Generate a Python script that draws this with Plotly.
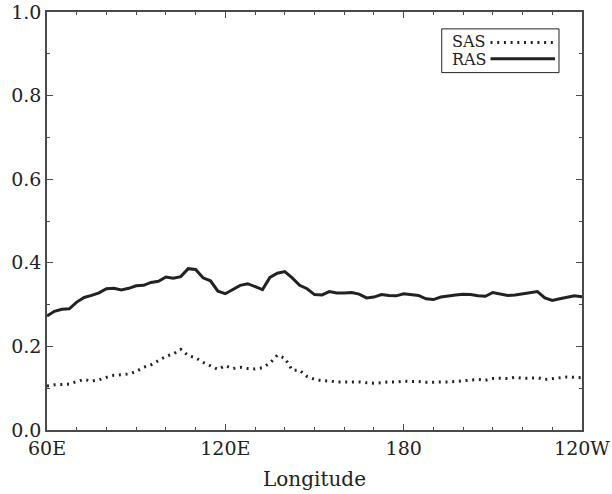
import numpy as np
import plotly.graph_objects as go

# Longitude grid (degrees east), 2.5 degree spacing from 60E to 120W
lon = np.arange(60.0, 240.0 + 0.1, 2.5)

ras = [0.273, 0.284, 0.289, 0.290, 0.306, 0.317, 0.322, 0.328, 0.338, 0.339,
       0.335, 0.339, 0.345, 0.346, 0.353, 0.356, 0.366, 0.363, 0.367, 0.386,
       0.384, 0.364, 0.357, 0.332, 0.326, 0.336, 0.346, 0.350, 0.343, 0.336,
       0.365, 0.375, 0.379, 0.364, 0.346, 0.338, 0.324, 0.323, 0.331, 0.328,
       0.328, 0.329, 0.325, 0.316, 0.318, 0.324, 0.322, 0.321, 0.326, 0.324,
       0.322, 0.314, 0.312, 0.318, 0.321, 0.323, 0.325, 0.324, 0.321, 0.320,
       0.329, 0.325, 0.322, 0.323, 0.326, 0.329, 0.331, 0.316, 0.310, 0.314,
       0.317, 0.321, 0.319]

sas = [0.105, 0.108, 0.109, 0.110, 0.116, 0.121, 0.117, 0.120, 0.126, 0.131,
       0.132, 0.134, 0.140, 0.150, 0.156, 0.165, 0.176, 0.182, 0.193, 0.178,
       0.173, 0.162, 0.154, 0.145, 0.154, 0.147, 0.150, 0.147, 0.146, 0.149,
       0.160, 0.179, 0.172, 0.143, 0.143, 0.128, 0.121, 0.118, 0.117, 0.115,
       0.115, 0.115, 0.115, 0.113, 0.112, 0.113, 0.115, 0.115, 0.117, 0.116,
       0.116, 0.114, 0.114, 0.114, 0.115, 0.116, 0.118, 0.119, 0.121, 0.119,
       0.123, 0.124, 0.123, 0.126, 0.124, 0.124, 0.125, 0.121, 0.123, 0.126,
       0.127, 0.126, 0.125]

x_ticks = [60, 120, 180, 240]
x_labels = ["60E", "120E", "180", "120W"]
y_ticks = [0.0, 0.2, 0.4, 0.6, 0.8, 1.0]
y_labels = ["0.0", "0.2", "0.4", "0.6", "0.8", "1.0"]
series_names = ["SAS", "RAS"]

INK = "#222222"
FRAME = "#4a4a4a"
SERIF = "DejaVu Serif"
SAS_DASH = "2px,4.7px"

fig = go.Figure()
fig.add_trace(go.Scatter(x=lon, y=sas, mode="lines", name=series_names[0],
                         line=dict(color=INK, width=3, dash=SAS_DASH),
                         showlegend=False))
fig.add_trace(go.Scatter(x=lon, y=ras, mode="lines", name=series_names[1],
                         line=dict(color=INK, width=3),
                         showlegend=False))

axis_common = dict(
    showgrid=False, zeroline=False, showline=True, linecolor=FRAME,
    linewidth=1.5, mirror="allticks", ticks="inside", tickcolor=FRAME,
    tickwidth=1, ticklen=6, ticklabeloverflow="allow", automargin=False,
    tickfont=dict(family=SERIF, size=19, color=INK),
)

fig.update_xaxes(range=[60, 240], tickvals=x_ticks, ticktext=x_labels,
                 minor=dict(dtick=10, tick0=60, ticks="inside", ticklen=3,
                            tickcolor=FRAME, tickwidth=1),
                 title=dict(text="Longitude", standoff=14,
                            font=dict(family=SERIF, size=20, color=INK)),
                 **axis_common)
fig.update_yaxes(range=[0, 1], tickvals=y_ticks, ticktext=y_labels,
                 minor=dict(dtick=0.1, tick0=0, ticks="inside", ticklen=3,
                            tickcolor=FRAME, tickwidth=1),
                 **axis_common)

# Legend box: label text followed by a line sample
legend_box = dict(x0=0.7378, x1=0.957, y0=0.855, y1=0.9596)
legend_rows = [(0.927, 0.9295, SAS_DASH), (0.888, 0.886, "solid")]
shapes = [dict(type="rect", xref="paper", yref="paper", **legend_box,
               line=dict(color=INK, width=1), fillcolor="white")]
annotations = []
for name, (ly, ty, dash) in zip(series_names, legend_rows):
    shapes.append(dict(type="line", xref="paper", yref="paper",
                       x0=0.829, x1=0.9495, y0=ly, y1=ly,
                       line=dict(color=INK, width=3, dash=dash)))
    annotations.append(dict(text=name, xref="paper", yref="paper",
                            x=0.7533, y=ty, xanchor="left", yanchor="middle",
                            showarrow=False,
                            font=dict(family=SERIF, size=16, color=INK)))

fig.update_layout(
    width=612, height=494,
    margin=dict(l=47, r=30, t=12, b=64),
    paper_bgcolor="white", plot_bgcolor="white",
    shapes=shapes, annotations=annotations,
    showlegend=False,
)

fig.write_html("out.html")
